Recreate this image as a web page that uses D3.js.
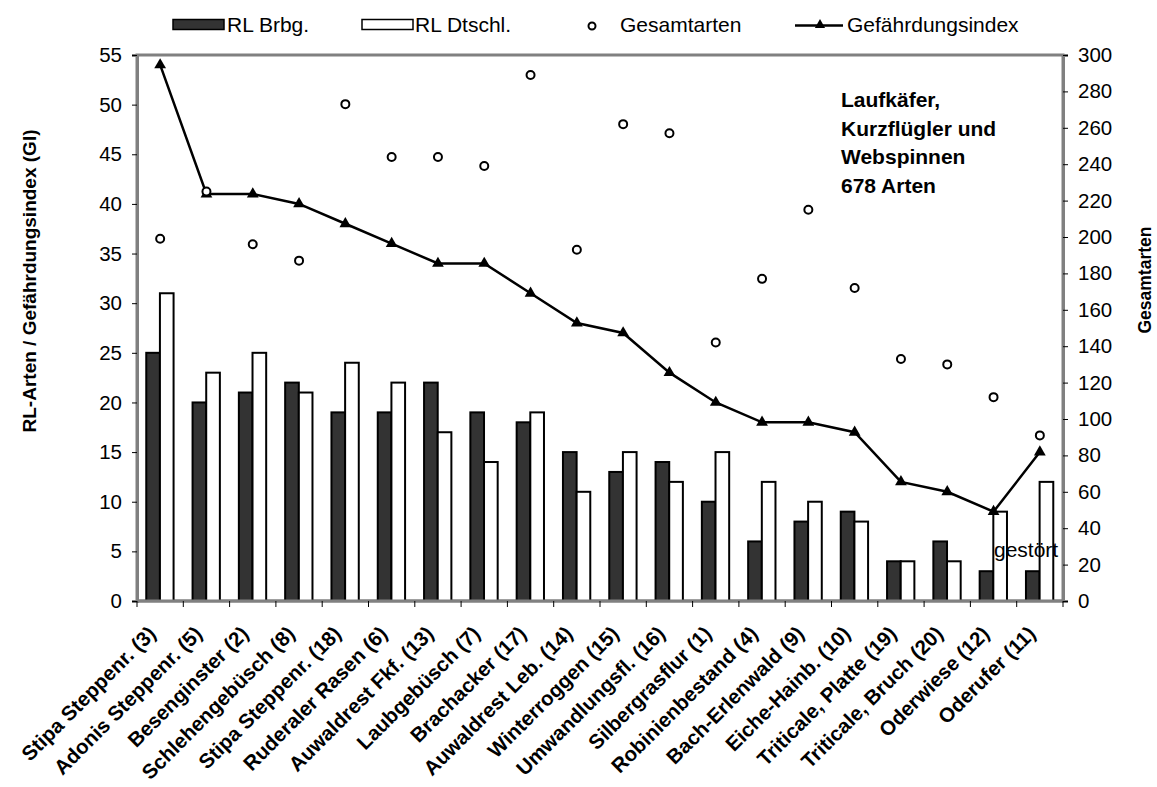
<!DOCTYPE html>
<html>
<head>
<meta charset="utf-8">
<script src="https://cdn.jsdelivr.net/npm/d3@7/dist/d3.min.js"></script>
<style>
  body { margin: 0; background: #fff; }
  svg { display: block; }
  text { font-family: Arial, "Liberation Sans", sans-serif; fill: #000; }
</style>
</head>
<body>
<svg id="chart" width="1157" height="787"></svg>
<script>
// sites, sorted by Gefährdungsindex
const categories = [
    'Stipa Steppenr. (3)', 'Adonis Steppenr. (5)', 'Besenginster (2)', 'Schlehengebüsch (8)',
    'Stipa Steppenr. (18)', 'Ruderaler Rasen (6)', 'Auwaldrest Fkf. (13)', 'Laubgebüsch (7)',
    'Brachacker (17)', 'Auwaldrest Leb. (14)', 'Winterroggen (15)', 'Umwandlungsfl. (16)',
    'Silbergrasflur (1)', 'Robinienbestand (4)', 'Bach-Erlenwald (9)', 'Eiche-Hainb. (10)',
    'Triticale, Platte (19)', 'Triticale, Bruch (20)', 'Oderwiese (12)', 'Oderufer (11)'
];
const rlBrbg   = [25, 20, 21, 22, 19, 19, 22, 19, 18, 15, 13, 14, 10, 6, 8, 9, 4, 6, 3, 3];
const rlDtschl = [31, 23, 25, 21, 24, 22, 17, 14, 19, 11, 15, 12, 15, 12, 10, 8, 4, 4, 9, 12];
const gesamtarten = [199, 225, 196, 187, 273, 244, 244, 239, 289, 193, 262, 257, 142, 177, 215, 172, 133, 130, 112, 91];
const gi = [54, 41, 41, 40, 38, 36, 34, 34, 31, 28, 27, 23, 20, 18, 18, 17, 12, 11, 9, 15];

const leftTicks = [0, 5, 10, 15, 20, 25, 30, 35, 40, 45, 50, 55];
const rightTicks = [0, 20, 40, 60, 80, 100, 120, 140, 160, 180, 200, 220, 240, 260, 280, 300];
const seriesNames = ['RL Brbg.', 'RL Dtschl.'];
const noteLines = ['Laufkäfer,', 'Kurzflügler und', 'Webspinnen', '678 Arten'];

const plot = {left: 137, right: 1063, top: 55, bottom: 601};
const grey = '#808080';

const svg = d3.select('#chart');

// scales
const x0 = d3.scaleBand().domain(categories).range([plot.left, plot.right]).padding(0);
const bw = x0.bandwidth();
const x1 = d3.scaleBand().domain(seriesNames).range([bw * 0.2, bw * 0.79]).padding(0);
const yL = d3.scaleLinear().domain([0, 55]).range([plot.bottom, plot.top]);
const yR = d3.scaleLinear().domain([0, 300]).range([plot.bottom, plot.top]);

// plot frame
svg.append('rect')
    .attr('x', plot.left)
    .attr('y', plot.top)
    .attr('width', plot.right - plot.left)
    .attr('height', plot.bottom - plot.top)
    .attr('fill', 'none')
    .attr('stroke', grey)
    .attr('stroke-width', 3);

// bars
const rows = categories.map((c, i) => ({cat: c, vals: [rlBrbg[i], rlDtschl[i]]}));
const groups = svg.selectAll('.grp')
    .data(rows)
    .enter()
    .append('g')
    .attr('class', 'grp')
    .attr('transform', (d) => `translate(${x0(d.cat)},0)`);
groups.selectAll('rect')
    .data((d) => d.vals.map((v, j) => ({name: seriesNames[j], v: v})))
    .enter()
    .append('rect')
    .attr('x', (d) => x1(d.name))
    .attr('y', (d) => yL(d.v))
    .attr('width', x1.bandwidth())
    .attr('height', (d) => yL(0) - yL(d.v))
    .attr('fill', (d) => d.name === 'RL Brbg.' ? '#333333' : '#ffffff')
    .attr('stroke', '#000')
    .attr('stroke-width', 2);

// bottom line over the bars
svg.append('line')
    .attr('x1', plot.left).attr('x2', plot.right)
    .attr('y1', plot.bottom).attr('y2', plot.bottom)
    .attr('stroke', grey).attr('stroke-width', 3);

// left axis
const axL = svg.append('g')
    .attr('transform', `translate(${plot.left},0)`)
    .call(d3.axisLeft(yL).tickValues(leftTicks).tickSize(5).tickPadding(10));
axL.select('.domain').attr('stroke', grey).attr('stroke-width', 3);
axL.selectAll('.tick line').attr('stroke', '#000');
axL.selectAll('.tick text').style('font-size', '20.5px').attr('font-family', null);

// right axis
const axR = svg.append('g')
    .attr('transform', `translate(${plot.right},0)`)
    .call(d3.axisRight(yR).tickValues(rightTicks).tickSize(5).tickPadding(10));
axR.select('.domain').attr('stroke', grey).attr('stroke-width', 3);
axR.selectAll('.tick line').attr('stroke', '#000');
axR.selectAll('.tick text').style('font-size', '20.5px').attr('font-family', null);

// bottom axis: labels at band centres, ticks at band edges
const axB = svg.append('g')
    .attr('transform', `translate(0,${plot.bottom})`)
    .call(d3.axisBottom(x0).tickSize(0));
axB.select('.domain').remove();
axB.selectAll('.tick text')
    .attr('font-family', null)
    .style('font-size', '20.5px')
    .style('font-weight', 'bold')
    .attr('text-anchor', 'end')
    .attr('x', 0).attr('y', 0).attr('dy', 0)
    .attr('transform', 'translate(-3,34) rotate(-45)');
svg.append('g')
    .selectAll('line')
    .data(categories.map((c) => x0(c)).concat([plot.right]))
    .enter()
    .append('line')
    .attr('x1', (d) => d).attr('x2', (d) => d)
    .attr('y1', plot.bottom).attr('y2', plot.bottom + 6)
    .attr('stroke', '#000');

// Gefährdungsindex line
const line = d3.line()
    .x((d, i) => x0(categories[i]) + bw / 2)
    .y((d) => yL(d));
svg.append('path')
    .datum(gi)
    .attr('d', line)
    .attr('fill', 'none')
    .attr('stroke', '#000')
    .attr('stroke-width', 2.5);
const tri = d3.symbol().type(d3.symbolTriangle).size(60);
svg.selectAll('.tri')
    .data(gi)
    .enter()
    .append('path')
    .attr('class', 'tri')
    .attr('d', tri)
    .attr('transform', (d, i) => `translate(${x0(categories[i]) + bw / 2},${yL(d)})`)
    .attr('fill', '#000');

// Gesamtarten points
svg.selectAll('.ges')
    .data(gesamtarten)
    .enter()
    .append('circle')
    .attr('class', 'ges')
    .attr('cx', (d, i) => x0(categories[i]) + bw / 2)
    .attr('cy', (d) => yR(d))
    .attr('r', 4)
    .attr('fill', '#fff')
    .attr('stroke', '#000')
    .attr('stroke-width', 2);

// axis titles
svg.append('text')
    .attr('transform', 'translate(36,281) rotate(-90)')
    .attr('text-anchor', 'middle')
    .style('font-size', '19px')
    .style('font-weight', 'bold')
    .text('RL-Arten / Gefährdungsindex (GI)');
svg.append('text')
    .attr('transform', 'translate(1151,280) rotate(-90)')
    .attr('text-anchor', 'middle')
    .style('font-size', '17.5px')
    .style('font-weight', 'bold')
    .text('Gesamtarten');

// note
svg.append('g')
    .selectAll('text')
    .data(noteLines)
    .enter()
    .append('text')
    .attr('x', 841)
    .attr('y', (d, i) => 107 + i * 28.5)
    .style('font-size', '21px')
    .style('font-weight', 'bold')
    .text((d) => d);

svg.append('text')
    .attr('x', 994)
    .attr('y', 557)
    .style('font-size', '21px')
    .text('gestört');

// legend
const lg = svg.append('g').style('font-size', '21px');
lg.append('rect').attr('x', 173).attr('y', 19.5).attr('width', 51).attr('height', 10)
    .attr('fill', '#333333').attr('stroke', '#000').attr('stroke-width', 1.5);
lg.append('text').attr('x', 227).attr('y', 32).text('RL Brbg.');
lg.append('rect').attr('x', 362).attr('y', 19.5).attr('width', 51).attr('height', 10)
    .attr('fill', '#fff').attr('stroke', '#000').attr('stroke-width', 1.5);
lg.append('text').attr('x', 415).attr('y', 32).text('RL Dtschl.');
lg.append('circle').attr('cx', 592).attr('cy', 26).attr('r', 3.5)
    .attr('fill', '#fff').attr('stroke', '#000').attr('stroke-width', 2);
lg.append('text').attr('x', 620).attr('y', 32).text('Gesamtarten');
lg.append('line').attr('x1', 795).attr('x2', 843).attr('y1', 25.5).attr('y2', 25.5)
    .attr('stroke', '#000').attr('stroke-width', 2.5);
lg.append('path').attr('d', d3.symbol().type(d3.symbolTriangle).size(45))
    .attr('transform', 'translate(820,25)').attr('fill', '#000');
lg.append('text').attr('x', 847).attr('y', 32).text('Gefährdungsindex');
</script>
</body>
</html>
